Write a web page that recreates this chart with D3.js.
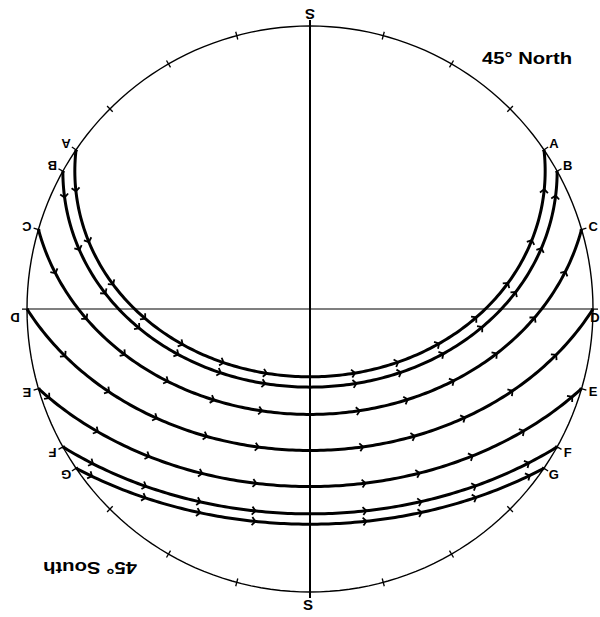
<!DOCTYPE html>
<html>
<head>
<meta charset="utf-8">
<script src="https://cdn.jsdelivr.net/npm/d3@7"></script>
<style>
  body { margin: 0; background: #fff; }
  svg { display: block; }
  text { font-family: "Liberation Sans", Arial, sans-serif; fill: #000; }
</style>
</head>
<body>
<div id="root"></div>
<script>
// diurnal paths of the sun, drawn on the sky of an observer at 45 degrees
const latitude = 45
const pathLabels = ["A", "B", "C", "D", "E", "F", "G"]
const declinations = [23.44, 20.15, 11.47, 0, -11.47, -20.15, -23.44]
const hourStep = 15
// azimuth ticks on the horizon, degrees from the top of the circle
const azimuthTicks = [15, 30, 45, 135, 150, 165, 195, 210, 225, 315, 330, 345]
const titles = ["45° North", "45° South"]
const poleLabels = ["S", "S"]

const width = 600, height = 617
const cx = 310, cy = 309, R = 283

const svg = d3.select("#root").append("svg")
  .attr("width", width)
  .attr("height", height)

const projection = d3.geoAzimuthalEquidistant()
  .rotate([0, -latitude])
  .scale(R / (Math.PI / 2))
  .translate([cx, cy])
  .clipAngle(90)
  .precision(0.2)

const path = d3.geoPath(projection)

// horizon
svg.append("path")
  .datum({ type: "Sphere" })
  .attr("d", path)
  .attr("fill", "none")
  .attr("stroke", "#000")
  .attr("stroke-width", 1.4)

// meridian and prime vertical
svg.append("line")
  .attr("x1", cx).attr("x2", cx)
  .attr("y1", cy - R - 6).attr("y2", cy + R + 6)
  .attr("stroke", "#000").attr("stroke-width", 2)

svg.append("path")
  .datum({ type: "LineString", coordinates: [[-90, 0], [0, latitude], [90, 0]] })
  .attr("d", path)
  .attr("fill", "none")
  .attr("stroke", "#000")
  .attr("stroke-width", 1.2)

// azimuth ticks on the circle
azimuthTicks.forEach(a => {
  const p1 = d3.pointRadial(a * Math.PI / 180, R - 4)
  const p2 = d3.pointRadial(a * Math.PI / 180, R + 4)
  svg.append("line")
    .attr("x1", cx + p1[0]).attr("y1", cy + p1[1])
    .attr("x2", cx + p2[0]).attr("y2", cy + p2[1])
    .attr("stroke", "#000").attr("stroke-width", 1.3)
})

const rad = Math.PI / 180

declinations.forEach((dec, i) => {
  const coords = d3.range(-180, 180.5, 1).map(l => [l, dec])
  svg.append("path")
    .datum({ type: "LineString", coordinates: coords })
    .attr("d", path)
    .attr("fill", "none")
    .attr("stroke", "#000")
    .attr("stroke-width", 3)
    .attr("stroke-linejoin", "round")

  // hour angle where the path meets the horizon
  const h0 = Math.acos(-Math.tan(latitude * rad) * Math.tan(dec * rad)) / rad

  // hour marks, small arrow heads along the path
  for (let k = 1; k * hourStep < h0 - 1; k++) {
    [-1, 1].forEach(s => {
      const lon = s * k * hourStep
      const p = projection([lon, dec])
      const q = projection([lon + 0.5, dec])
      const dx = q[0] - p[0], dy = q[1] - p[1]
      const len = Math.hypot(dx, dy)
      const tx = dx / len, ty = dy / len
      const nx = -ty, ny = tx
      const back = [p[0] - tx * 2.5, p[1] - ty * 2.5]
      svg.append("path")
        .attr("d", `M${back[0] + nx * 4},${back[1] + ny * 4}L${p[0] + tx},${p[1] + ty}L${back[0] - nx * 4},${back[1] - ny * 4}`)
        .attr("fill", "none")
        .attr("stroke", "#000").attr("stroke-width", 1.8)
    })
  }

  // rise / set points with their letters
  ;[-1, 1].forEach(s => {
    const e = projection([s * (h0 - 0.01), dec])
    const ang = Math.atan2(e[0] - cx, -(e[1] - cy))
    const t1 = d3.pointRadial(ang, R - 2)
    const t2 = d3.pointRadial(ang, R + 5)
    svg.append("line")
      .attr("x1", cx + t1[0]).attr("y1", cy + t1[1])
      .attr("x2", cx + t2[0]).attr("y2", cy + t2[1])
      .attr("stroke", "#000").attr("stroke-width", 1.3)
    const lp = d3.pointRadial(ang, R + 12)
    const lx = Math.max(6, Math.min(cx + lp[0], width - 5)), ly = cy + lp[1] + (Math.abs(dec) < 1 ? 8 : 0)
    svg.append("text")
      .attr("x", lx).attr("y", ly)
      .attr("text-anchor", "middle")
      .attr("dominant-baseline", "central")
      .attr("font-size", 13)
      .attr("font-weight", "bold")
      .attr("transform", s < 0 ? `rotate(180,${lx},${ly})` : null)
      .text(pathLabels[i])
  })
})

// titles
svg.append("text")
  .attr("x", 527).attr("y", 64)
  .attr("text-anchor", "middle")
  .attr("font-size", 17)
  .attr("font-weight", "bold")
  .attr("textLength", 90)
  .attr("lengthAdjust", "spacingAndGlyphs")
  .text(titles[0])

svg.append("text")
  .attr("x", 90).attr("y", 574)
  .attr("text-anchor", "middle")
  .attr("font-size", 17)
  .attr("font-weight", "bold")
  .attr("textLength", 94)
  .attr("lengthAdjust", "spacingAndGlyphs")
  .attr("transform", "rotate(180,90,568)")
  .text(titles[1])

svg.append("text")
  .attr("x", cx).attr("y", 14)
  .attr("text-anchor", "middle")
  .attr("dominant-baseline", "central")
  .attr("font-size", 15)
  .attr("font-weight", "bold")
  .attr("transform", `rotate(180,${cx},14)`)
  .text(poleLabels[0])

svg.append("text")
  .attr("x", cx - 2).attr("y", 604)
  .attr("text-anchor", "middle")
  .attr("dominant-baseline", "central")
  .attr("font-size", 15)
  .attr("font-weight", "bold")
  .text(poleLabels[1])
</script>
</body>
</html>
